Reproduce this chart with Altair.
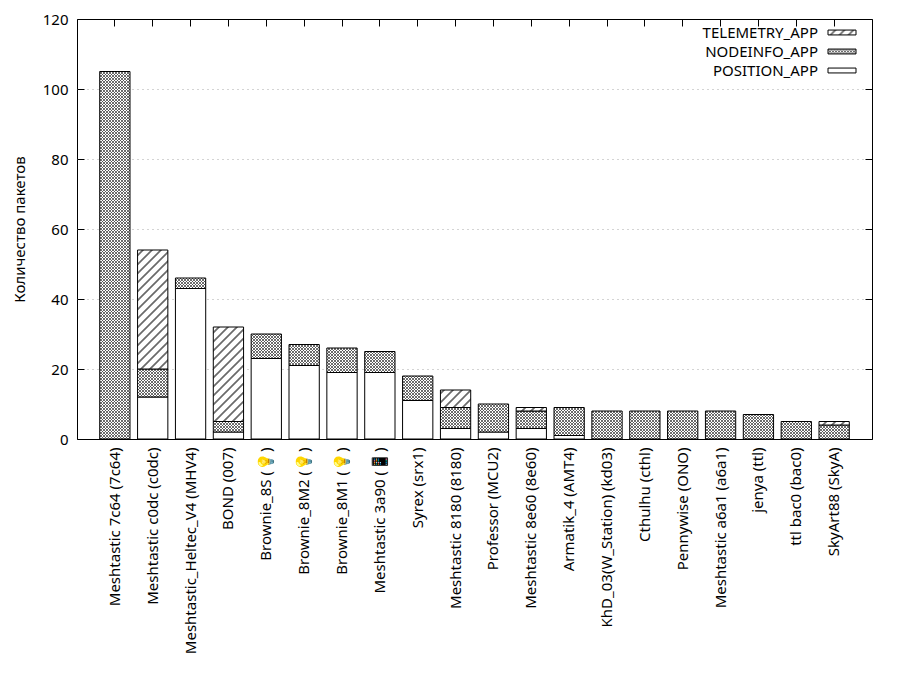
import altair as alt
import pandas as pd
import jinja2

# ---------------- data ----------------
nodes = [
    "Meshtastic 7c64 (7c64)",
    "Meshtastic c0dc (c0dc)",
    "Meshtastic_Heltec_V4 (MHV4)",
    "BOND (007)",
    "Brownie_8S (💡)",
    "Brownie_8M2 (💡)",
    "Brownie_8M1 (💡)",
    "Meshtastic 3a90 (📱)",
    "Syrex (srx1)",
    "Meshtastic 8180 (8180)",
    "Professor (MCU2)",
    "Meshtastic 8e60 (8e60)",
    "Armatik_4 (AMT4)",
    "KhD_03(W_Station) (kd03)",
    "Cthulhu (cthl)",
    "Pennywise (ONO)",
    "Meshtastic a6a1 (a6a1)",
    "jenya (ttl)",
    "ttl bac0 (bac0)",
    "SkyArt88 (SkyA)",
]
position_app = [0, 12, 43, 2, 23, 21, 19, 19, 11, 3, 2, 3, 1, 0, 0, 0, 0, 0, 0, 0]
nodeinfo_app = [105, 8, 3, 3, 7, 6, 7, 6, 7, 6, 8, 5, 8, 8, 8, 8, 8, 7, 5, 4]
telemetry_app = [0, 34, 0, 27, 0, 0, 0, 0, 0, 5, 0, 1, 0, 0, 0, 0, 0, 0, 0, 1]

apps = ["TELEMETRY_APP", "NODEINFO_APP", "POSITION_APP"]
app_fills = ["url(#hatch)", "url(#cross)", "white"]
y_ticks = [0, 20, 40, 60, 80, 100, 120]
y_grid = [20, 40, 60, 80, 100]
y_title = "Количество пакетов"

series = {"POSITION_APP": position_app, "NODEINFO_APP": nodeinfo_app, "TELEMETRY_APP": telemetry_app}
stack_rank = {"POSITION_APP": 0, "NODEINFO_APP": 1, "TELEMETRY_APP": 2}
rows = []
for app, vals in series.items():
    for n, v in zip(nodes, vals):
        rows.append({"node": n, "app": app, "count": v, "ord": stack_rank[app]})
df = pd.DataFrame(rows)

W, H = 795, 420
FONT = "Noto Sans"
FS = 15


def xe(axis):
    return alt.X("node:N", sort=nodes,
                 scale=alt.Scale(paddingInner=0.2, paddingOuter=0.6), axis=axis)


def ye(axis):
    return alt.Y("count:Q", stack="zero",
                 scale=alt.Scale(domain=[0, 120], nice=False), axis=axis)


base = alt.Chart(df)

bars = base.transform_filter("datum.count > 0").mark_bar(
    stroke="black", strokeWidth=1
).encode(
    x=xe(alt.Axis(orient="bottom", labelAngle=270, labelPadding=8, ticks=False,
                  tickSize=0, domain=False, grid=False, title=None,
                  labelFontSize=FS, labelColor="black", labelLimit=400)),
    y=ye(alt.Axis(orient="left", values=y_ticks, ticks=False, tickSize=0,
                  domain=False, grid=False, labelPadding=9, labelFontSize=FS,
                  labelColor="black", title=y_title, titleFontSize=FS,
                  titleFontWeight="normal", titleColor="black", titlePadding=15)),
    fill=alt.Fill("app:N", scale=alt.Scale(domain=apps, range=app_fills),
                  legend=alt.Legend(title=None, orient="none", legendX=757.5,
                                    legendY=6, labelAlign="right",
                                    labelOffset=alt.ExprRef(expr="-31.5"),
                                    symbolType="M-2,-0.35H2V0.35H-2Z",
                                    symbolSize=196, symbolStrokeColor="black",
                                    symbolStrokeWidth=1, symbolOpacity=1,
                                    labelFontSize=FS, labelColor="black",
                                    rowPadding=3, padding=0)),
    order=alt.Order("ord:Q", sort="ascending"),
)

grid_layer = base.mark_point(opacity=0).encode(
    x=xe(alt.Axis(orient="bottom", offset=alt.ExprRef(expr=f"-{H}"), ticks=True,
                  tickSize=7, tickColor="black", tickWidth=1, labels=False,
                  domain=False, grid=False, title=None)),
    y=ye(alt.Axis(orient="left", values=y_grid, grid=True, gridDash=[1, 4],
                  gridColor="#a8a8a8", gridWidth=1, ticks=False, labels=False,
                  domain=False, title=None)),
)

left_ticks = base.mark_point(opacity=0).encode(
    x=xe(None),
    y=ye(alt.Axis(orient="right", offset=alt.ExprRef(expr=f"-{W}"), values=y_ticks,
                  ticks=True, tickSize=7, tickColor="black", tickWidth=1,
                  labels=False, domain=False, grid=False, title=None)),
)

right_ticks = base.mark_point(opacity=0).encode(
    x=xe(None),
    y=ye(alt.Axis(orient="left", offset=alt.ExprRef(expr=f"-{W}"), values=y_ticks,
                  ticks=True, tickSize=7, tickColor="black", tickWidth=1,
                  labels=False, domain=False, grid=False, title=None)),
)

chart = alt.layer(grid_layer, left_ticks, right_ticks, bars).resolve_axis(
    x="independent", y="independent"
).properties(
    width=W, height=H,
    autosize=alt.AutoSizeParams(type="none"),
    padding={"left": 69, "top": 11, "right": 14, "bottom": 250},
).configure(font=FONT).configure_view(stroke="black", strokeWidth=1)

PAGE = jinja2.Template("""<!DOCTYPE html>
<html>
<head>
  <meta charset="utf-8">
  <style>
    #{{ output_div }}.vega-embed { width: 100%; display: flex; }
    #{{ output_div }}.vega-embed details,
    #{{ output_div }}.vega-embed details summary { position: relative; }
  </style>
  <script type="text/javascript" src="{{ base_url }}/vega@{{ vega_version }}"></script>
  <script type="text/javascript" src="{{ base_url }}/vega-lite@{{ vegalite_version }}"></script>
  <script type="text/javascript" src="{{ base_url }}/vega-embed@{{ vegaembed_version }}"></script>
</head>
<body>
  <svg width="0" height="0" style="position:absolute;width:0;height:0;overflow:hidden" aria-hidden="true">
    <defs>
      <pattern id="hatch" patternUnits="userSpaceOnUse" width="9" height="9">
        <rect x="0" y="0" width="9" height="9" fill="white"/>
        <path d="M-1,1 L1,-1 M0,9 L9,0 M8,10 L10,8" stroke="#6a6a6a" stroke-width="1.7"/>
      </pattern>
      <pattern id="cross" patternUnits="userSpaceOnUse" width="3" height="3">
        <rect x="0" y="0" width="3" height="3" fill="white"/>
        <path d="M0,0 L3,3 M3,0 L0,3" stroke="#484848" stroke-width="0.8"/>
      </pattern>
    </defs>
  </svg>
  <div id="{{ output_div }}"></div>
  <script type="text/javascript">
    (function(vegaEmbed) {
      var spec = {{ spec }};
      var embedOpt = {{ embed_options }};
      function showError(el, error){
        el.innerHTML = ('<div style="color:red;"><p>JavaScript Error: ' + error.message + '</p></div>');
        throw error;
      }
      const el = document.getElementById('{{ output_div }}');
      vegaEmbed("#{{ output_div }}", spec, embedOpt).catch(error => showError(el, error));
    })(vegaEmbed);
  </script>
</body>
</html>
""")

chart.save("out.html", embed_options={"renderer": "svg", "actions": False}, template=PAGE)
